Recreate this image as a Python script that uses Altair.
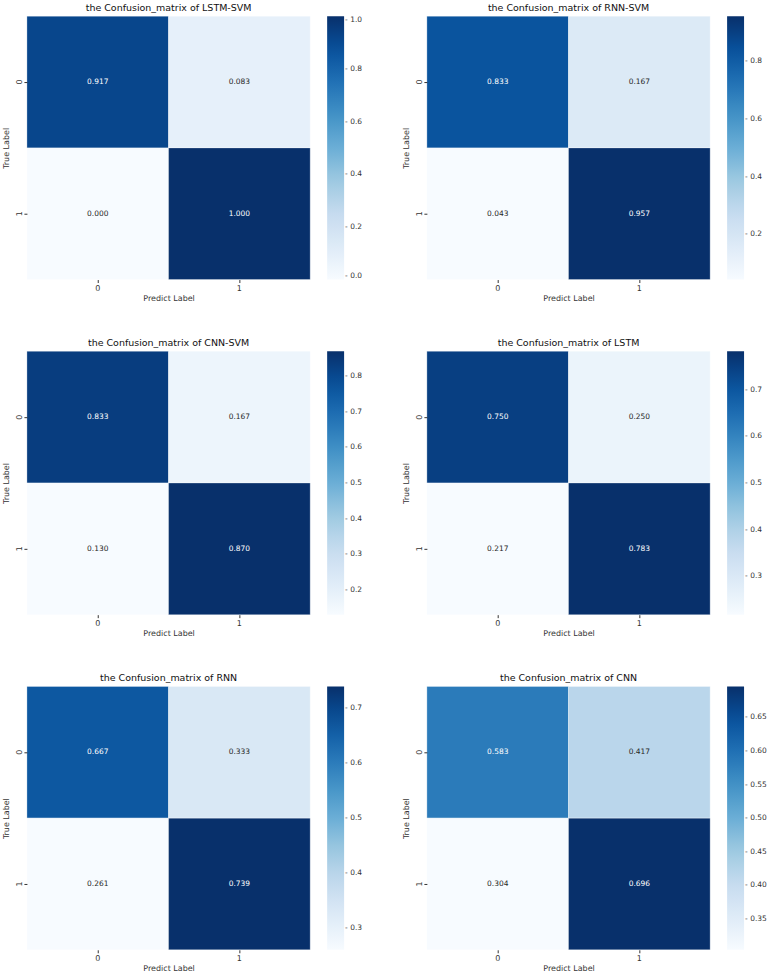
import altair as alt
import pandas as pd
import numpy as np

# ---- data ----
models = ["LSTM-SVM", "RNN-SVM", "CNN-SVM", "LSTM", "RNN", "CNN"]
true_labels = ["0", "0", "1", "1"]
pred_labels = ["0", "1", "0", "1"]
values = {
    "LSTM-SVM": [0.917, 0.083, 0.000, 1.000],
    "RNN-SVM": [0.833, 0.167, 0.043, 0.957],
    "CNN-SVM": [0.833, 0.167, 0.130, 0.870],
    "LSTM": [0.750, 0.250, 0.217, 0.783],
    "RNN": [0.667, 0.333, 0.261, 0.739],
    "CNN": [0.583, 0.417, 0.304, 0.696],
}
colorbar_ticks = {
    "LSTM-SVM": [0.0, 0.2, 0.4, 0.6, 0.8, 1.0],
    "RNN-SVM": [0.2, 0.4, 0.6, 0.8],
    "CNN-SVM": [0.2, 0.3, 0.4, 0.5, 0.6, 0.7, 0.8],
    "LSTM": [0.3, 0.4, 0.5, 0.6, 0.7],
    "RNN": [0.3, 0.4, 0.5, 0.6, 0.7],
    "CNN": [0.35, 0.40, 0.45, 0.50, 0.55, 0.60, 0.65],
}
colorbar_format = {"LSTM-SVM": ".1f", "RNN-SVM": ".1f", "CNN-SVM": ".1f",
                   "LSTM": ".1f", "RNN": ".1f", "CNN": ".2f"}

BLUES = ["#f7fbff", "#deebf7", "#c6dbef", "#9ecae1", "#6baed6",
         "#4292c6", "#2171b5", "#08519c", "#08306b"]

FONT = "DejaVu Sans"
W, H = 284, 264
FS = 7.5
AFS = 8


def panel(name):
    vals = values[name]
    df = pd.DataFrame({"true": true_labels, "pred": pred_labels, "value": vals})
    vmin, vmax = min(vals), max(vals)
    dom = list(np.linspace(vmin, vmax, len(BLUES)))
    thr = vmin + 0.5 * (vmax - vmin)
    base = alt.Chart(df)
    rect = base.mark_rect(stroke="white", strokeWidth=0.3).encode(
        x=alt.X("pred:O", sort=["0", "1"],
                axis=alt.Axis(title="Predict Label", labelAngle=0, domain=False,
                              tickSize=3, tickColor="#333", labelPadding=2,
                              titlePadding=2)),
        y=alt.Y("true:O", sort=["0", "1"],
                axis=alt.Axis(title="True Label", labelAngle=270, domain=False,
                              tickSize=3, tickColor="#333", labelPadding=4,
                              titlePadding=5, labelBaseline="middle")),
        color=alt.Color("value:Q",
                        scale=alt.Scale(domain=dom, range=BLUES, interpolate="rgb"),
                        legend=alt.Legend(title=None, values=colorbar_ticks[name],
                                          format=colorbar_format[name],
                                          labelExpr="'- ' + datum.label",
                                          gradientLength=H, gradientThickness=17,
                                          gradientStrokeWidth=0, offset=17,
                                          labelFontSize=FS, labelColor="#333",
                                          labelOffset=1, labelOverlap=False,
                                          labelFont=FONT, direction="vertical")),
    )
    text = base.mark_text(fontSize=FS, font=FONT).encode(
        x=alt.X("pred:O", sort=["0", "1"]),
        y=alt.Y("true:O", sort=["0", "1"]),
        text=alt.Text("value:Q", format=".3f"),
        color=alt.condition(alt.datum.value > thr, alt.value("#ffffff"),
                            alt.value("#262626")),
    )
    return alt.layer(rect, text).resolve_scale(color="independent").properties(
        width=W, height=H,
        title=alt.TitleParams(f"the Confusion_matrix of {name}", fontSize=9.5,
                              font=FONT, fontWeight="normal", offset=4,
                              color="#111"),
    )


rows = []
for i in range(0, 6, 2):
    rows.append(alt.hconcat(panel(models[i]), panel(models[i + 1]), spacing=40)
                .resolve_scale(color="independent"))

chart = alt.vconcat(*rows, spacing=35).resolve_scale(color="independent").configure(
    padding={"left": 3, "top": 1, "right": 0, "bottom": 0},
    font=FONT,
).configure_axis(
    labelFont=FONT, titleFont=FONT, labelFontSize=AFS, titleFontSize=AFS,
    labelColor="#333", titleColor="#333", titleFontWeight="normal", grid=False,
).configure_view(stroke=None)

chart.save("out.html", embed_options={"renderer": "svg", "actions": False})
